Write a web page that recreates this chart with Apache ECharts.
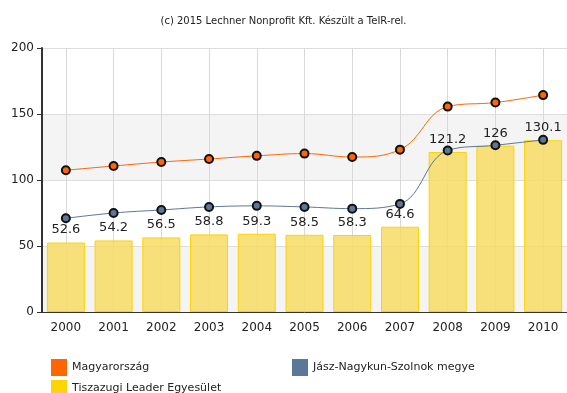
<!DOCTYPE html>
<html>
<head>
<meta charset="utf-8">
<script src="https://cdn.jsdelivr.net/npm/echarts@6/dist/echarts.min.js"></script>
<style>
  html, body { margin: 0; padding: 0; background: #fff; }
  #chart { width: 567px; height: 393px; }
</style>
</head>
<body>
<div id="chart"></div>
<script>
// Years on the category axis
const years = ['2000', '2001', '2002', '2003', '2004', '2005', '2006', '2007', '2008', '2009', '2010'];

// Index values per area
const magyarorszag = [107.4, 110.6, 113.6, 115.9, 118.3, 120.0, 117.4, 123.0, 155.6, 158.7, 164.3];
const jnszMegye = [71.0, 75.0, 77.3, 79.6, 80.4, 79.6, 78.3, 81.9, 122.4, 126.3, 130.4];
const tiszazugi = [52.6, 54.2, 56.5, 58.8, 59.3, 58.5, 58.3, 64.6, 121.2, 126, 130.1];

// Y axis ticks
const yTicks = { min: 0, max: 200, interval: 50 };

const fontFamily = 'Verdana, "DejaVu Sans", sans-serif';

const chart = echarts.init(document.getElementById('chart'), null, { renderer: 'canvas' });

const legendBase = {
  orient: 'horizontal',
  icon: 'rect',
  itemWidth: 16,
  itemHeight: 17,
  itemGap: 4,
  textStyle: { fontSize: 11, color: '#222', fontFamily },
  itemStyle: { borderWidth: 0 }
};

chart.setOption({
  animation: false,
  title: {
    text: '(c) 2015 Lechner Nonprofit Kft. Készült a TeIR-rel.',
    left: 'center',
    top: 11,
    textStyle: { fontSize: 10, fontWeight: 'normal', color: '#222', fontFamily }
  },
  legend: [
    Object.assign({}, legendBase, { left: 46, top: 354, data: [{ name: 'Magyarország', itemStyle: { color: '#ff6600' } }] }),
    Object.assign({}, legendBase, { left: 287, top: 354, data: [{ name: 'Jász-Nagykun-Szolnok megye', itemStyle: { color: '#5b7899' } }] }),
    Object.assign({}, legendBase, { left: 46, top: 375, data: [{ name: 'Tiszazugi Leader Egyesület', itemStyle: { color: '#ffd400' } }] })
  ],
  grid: { left: 42, right: 0, top: 48, bottom: 81, containLabel: false },
  xAxis: {
    type: 'category',
    data: years,
    boundaryGap: true,
    axisLine: { lineStyle: { color: '#333', width: 1 } },
    axisTick: { alignWithLabel: true, length: 5, lineStyle: { color: '#333' } },
    axisLabel: { fontSize: 12, color: '#222', margin: 10, fontFamily },
    splitLine: { show: true, alignWithLabel: true, lineStyle: { color: '#d9d9d9' } }
  },
  yAxis: {
    type: 'value',
    min: yTicks.min,
    max: yTicks.max,
    interval: yTicks.interval,
    axisLine: { show: true, lineStyle: { color: '#333', width: 2 } },
    axisTick: { show: true, length: 5, lineStyle: { color: '#333' } },
    axisLabel: { fontSize: 12, color: '#222', margin: 8, fontFamily },
    splitLine: { show: true, lineStyle: { color: '#dedede' } },
    splitArea: { show: true, areaStyle: { color: ['#f4f4f4', '#ffffff'] } }
  },
  series: [
    {
      name: 'Tiszazugi Leader Egyesület',
      type: 'bar',
      data: tiszazugi,
      barWidth: 38,
      itemStyle: { color: 'rgba(247, 220, 100, 0.85)', borderColor: '#ffd200', borderWidth: 1 },
      label: {
        show: true,
        position: 'top',
        distance: 6,
        fontSize: 13,
        color: '#222',
        fontFamily
      },
      z: 2
    },
    {
      name: 'Magyarország',
      type: 'line',
      data: magyarorszag,
      smooth: 0.4,
      symbol: 'circle',
      symbolSize: 8,
      lineStyle: { color: '#ff6600', width: 1 },
      itemStyle: { color: '#ff6600', borderColor: '#111', borderWidth: 2 },
      z: 3
    },
    {
      name: 'Jász-Nagykun-Szolnok megye',
      type: 'line',
      data: jnszMegye,
      smooth: 0.4,
      symbol: 'circle',
      symbolSize: 8,
      lineStyle: { color: '#5b7899', width: 1 },
      itemStyle: { color: '#5b7899', borderColor: '#111', borderWidth: 2 },
      z: 3
    }
  ]
});
</script>
</body>
</html>
